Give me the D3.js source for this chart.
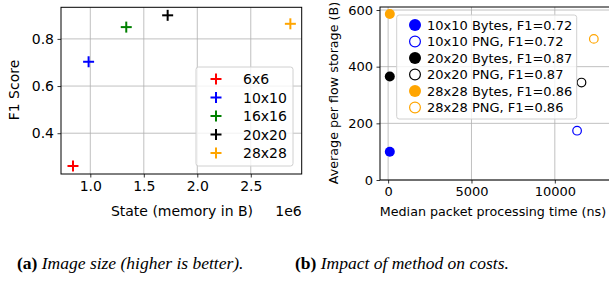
<!DOCTYPE html>
<html>
<head>
<meta charset="utf-8">
<script src="https://cdn.jsdelivr.net/npm/d3@7"></script>
<style>
  body { margin: 0; background: #fff; }
  svg { display: block; }
  text { font-family: "DejaVu Sans", sans-serif; fill: #000; }
  .caption text, text.caption { font-family: "Liberation Serif", serif; }
</style>
</head>
<body>
<div id="chart"></div>
<script>
// left panel: image size vs F1
var sizeNames = ["6x6", "10x10", "16x16", "20x20", "28x28"];
var sizeState = [0.838e6, 0.984e6, 1.336e6, 1.723e6, 2.87e6];
var sizeF1 = [0.261, 0.703, 0.85, 0.90, 0.864];
var sizeColors = ["#ff0000", "#0000ff", "#008000", "#000000", "#ffa500"];
var leftXTicks = [1.0e6, 1.5e6, 2.0e6, 2.5e6];
var leftYTicks = [0.4, 0.6, 0.8];

// right panel: method costs
var methodNames = ["10x10 Bytes, F1=0.72", "10x10 PNG, F1=0.72", "20x20 Bytes, F1=0.87",
                   "20x20 PNG, F1=0.87", "28x28 Bytes, F1=0.86", "28x28 PNG, F1=0.86"];
var methodTime = [100, 11335, 100, 11600, 100, 12340];
var methodStorage = [100, 174, 365, 344, 586, 498];
var methodColors = ["#0000ff", "#0000ff", "#000000", "#000000", "#ffa500", "#ffa500"];
var methodFilled = [true, false, true, false, true, false];
var rightXTicks = [0, 5000, 10000];
var rightYTicks = [0, 200, 400, 600];

var W = 609, H = 287;
var svg = d3.select("#chart").append("svg")
    .attr("width", W)
    .attr("height", H);

function drawFrame(g, x, y, xTicks, yTicks, xfmt, yfmt, fs) {
    var x0 = x.range()[0], x1 = x.range()[1], y0 = y.range()[0], y1 = y.range()[1];
    // grid
    g.selectAll(".gx").data(xTicks).enter().append("line")
        .attr("x1", function (d) { return x(d); }).attr("x2", function (d) { return x(d); })
        .attr("y1", y0).attr("y2", y1)
        .style("stroke", "#b0b0b0").style("stroke-width", 0.8);
    g.selectAll(".gy").data(yTicks).enter().append("line")
        .attr("y1", function (d) { return y(d); }).attr("y2", function (d) { return y(d); })
        .attr("x1", x0).attr("x2", x1)
        .style("stroke", "#b0b0b0").style("stroke-width", 0.8);

    var xAxis = g.append("g").attr("transform", "translate(0," + y0 + ")")
        .call(d3.axisBottom(x).tickValues(xTicks).tickFormat(xfmt).tickSizeInner(3.5).tickSizeOuter(0).tickPadding(3.5));
    var yAxis = g.append("g").attr("transform", "translate(" + x0 + ",0)")
        .call(d3.axisLeft(y).tickValues(yTicks).tickFormat(yfmt).tickSizeInner(3.5).tickSizeOuter(0).tickPadding(3.5));
    [xAxis, yAxis].forEach(function (a) {
        a.select(".domain").remove();
        a.selectAll("text").style("font-family", "DejaVu Sans").style("font-size", fs + "px").attr("fill", "#000");
        a.selectAll("line").style("stroke", "#000").style("stroke-width", 0.8);
    });

    g.append("rect")
        .attr("x", x0).attr("y", y1)
        .attr("width", x1 - x0).attr("height", y0 - y1)
        .style("fill", "none").style("stroke", "#000").style("stroke-width", 1);
}

// ---- left panel ----
var xL = d3.scaleLinear().domain([0.726e6, 2.976e6]).range([61, 301.7]);
var yL = d3.scaleLinear().domain([0.227, 0.934]).range([174, 7.3]);
var gL = svg.append("g");
drawFrame(gL, xL, yL, leftXTicks, leftYTicks,
    function (d) { return (d / 1e6).toFixed(1); }, d3.format(".1f"), 14);

function plus(g, cx, cy, color, s) {
    g.append("line").attr("x1", cx - s).attr("x2", cx + s).attr("y1", cy).attr("y2", cy)
        .style("stroke", color).style("stroke-width", 2);
    g.append("line").attr("x1", cx).attr("x2", cx).attr("y1", cy - s).attr("y2", cy + s)
        .style("stroke", color).style("stroke-width", 2);
}

sizeNames.forEach(function (n, i) {
    plus(gL, xL(sizeState[i]), yL(sizeF1[i]), sizeColors[i], 5.5);
});

// left legend
gL.append("rect")
    .attr("x", 196).attr("y", 67).attr("width", 97).attr("height", 99).attr("rx", 2.5)
    .style("fill", "#fff").style("fill-opacity", 0.8)
    .style("stroke", "#d0d0d0").style("stroke-width", 1);
sizeNames.forEach(function (n, i) {
    var yy = 79 + i * 18.5;
    plus(gL, 216, yy, sizeColors[i], 5.5);
    gL.append("text").attr("x", 243).attr("y", yy).attr("dy", "0.36em")
        .style("font-size", "14px").text(n);
});

gL.append("text")
    .attr("transform", "translate(19,90) rotate(-90)")
    .attr("text-anchor", "middle").style("font-size", "14px")
    .text("F1 Score");
gL.append("text")
    .attr("x", 182).attr("y", 216).attr("text-anchor", "middle")
    .style("font-size", "14px").text("State (memory in B)");
gL.append("text")
    .attr("x", 301.7).attr("y", 216).attr("text-anchor", "end")
    .style("font-size", "14px").text("1e6");

// ---- right panel ----
var xR = d3.scaleLinear().domain([-488, 13430]).range([380, 612]);
var yR = d3.scaleLinear().domain([0, 610.6]).range([180, 7]);
var gR = svg.append("g");
drawFrame(gR, xR, yR, rightXTicks, rightYTicks, d3.format("d"), d3.format("d"), 13);

methodNames.forEach(function (n, i) {
    gR.append("circle")
        .attr("cx", xR(methodTime[i])).attr("cy", yR(methodStorage[i]))
        .attr("r", methodFilled[i] ? 5 : 4.3)
        .style("fill", methodFilled[i] ? methodColors[i] : "none")
        .style("stroke", methodColors[i])
        .style("stroke-width", methodFilled[i] ? 0 : 1.2);
});

gR.append("rect")
    .attr("x", 396.7).attr("y", 15).attr("width", 180).attr("height", 104).attr("rx", 2.5)
    .style("fill", "#fff").style("fill-opacity", 0.8)
    .style("stroke", "#d0d0d0").style("stroke-width", 1);
methodNames.forEach(function (n, i) {
    var yy = 25 + i * 16.5;
    gR.append("circle")
        .attr("cx", 415).attr("cy", yy)
        .attr("r", methodFilled[i] ? 6 : 5.4)
        .style("fill", methodFilled[i] ? methodColors[i] : "none")
        .style("stroke", methodColors[i])
        .style("stroke-width", methodFilled[i] ? 0 : 1.2);
    gR.append("text").attr("x", 427).attr("y", yy).attr("dy", "0.36em")
        .style("font-size", "13px").text(n);
});

gR.append("text")
    .attr("transform", "translate(338,93) rotate(-90)")
    .attr("text-anchor", "middle").style("font-size", "12.7px")
    .text("Average per flow storage (B)");
gR.append("text")
    .attr("x", 493).attr("y", 216).attr("text-anchor", "middle")
    .style("font-size", "12.7px").text("Median packet processing time (ns)");

// ---- captions ----
var capA = svg.append("text").attr("class", "caption").attr("x", 17).attr("y", 269)
    .style("font-size", "17.5px");
capA.append("tspan").style("font-weight", "bold").text("(a)");
capA.append("tspan").style("font-style", "italic").text(" Image size (higher is better).");

var capB = svg.append("text").attr("class", "caption").attr("x", 295).attr("y", 269)
    .style("font-size", "17.5px");
capB.append("tspan").style("font-weight", "bold").text("(b)");
capB.append("tspan").style("font-style", "italic").text(" Impact of method on costs.");
</script>
</body>
</html>
